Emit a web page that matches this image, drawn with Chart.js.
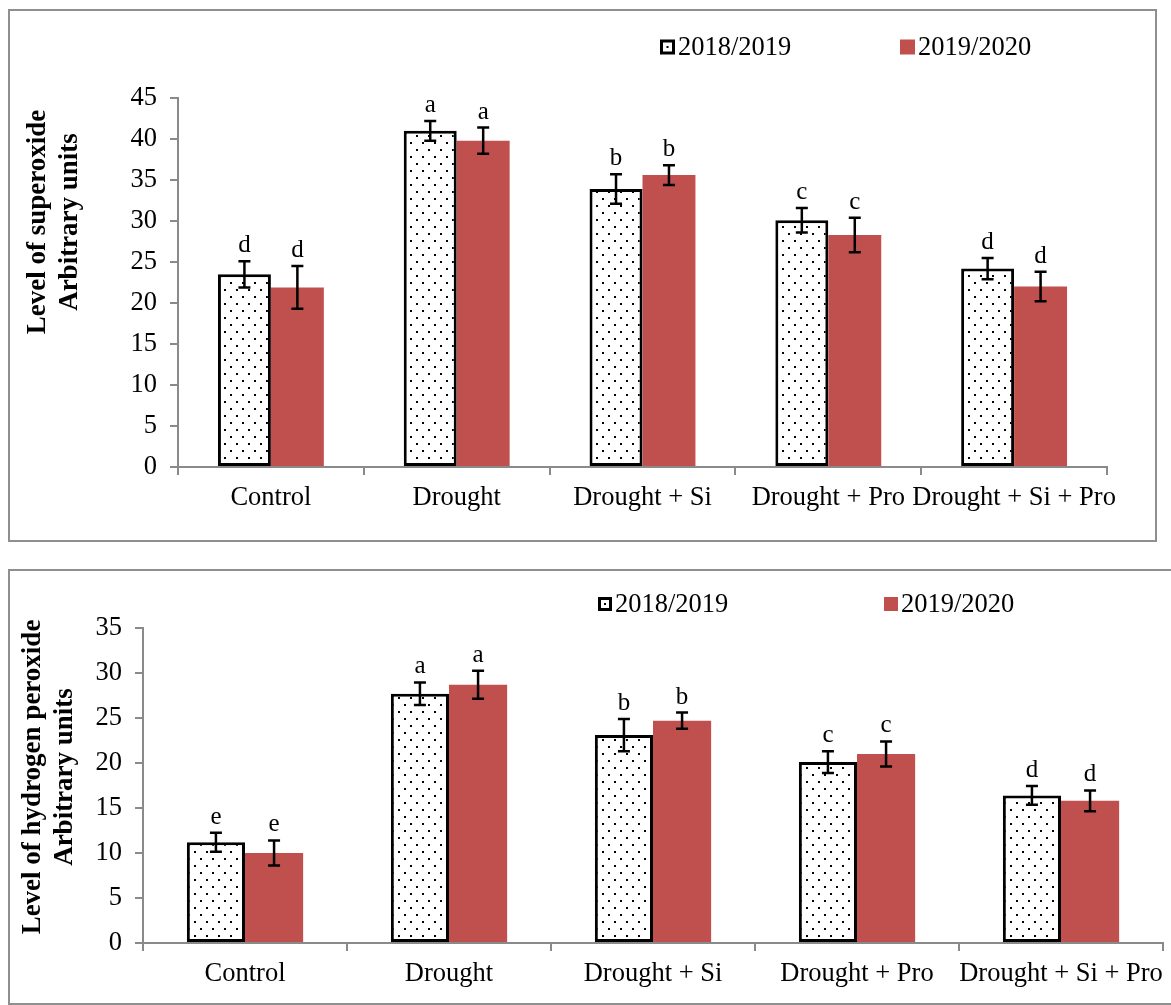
<!DOCTYPE html>
<html>
<head>
<meta charset="utf-8">
<script src="https://cdn.jsdelivr.net/npm/chart.js@4.4.0/dist/chart.umd.min.js"></script>
<style>
  html, body { margin: 0; padding: 0; background: #fff; }
  body { width: 1171px; height: 1005px; position: relative; overflow: hidden; }
  .frame { position: absolute; border: 2px solid #8f8f8f; box-sizing: border-box; }
  #f1 { left: 8px; top: 9px; width: 1149px; height: 533px; }
  #f2 { left: 8px; top: 569px; width: 1200px; height: 436px; }
  canvas { position: absolute; left: 0; }
  #c1 { top: 0; }
  #c2 { top: 555px; }
</style>
</head>
<body>
<div class="frame" id="f1"></div>
<div class="frame" id="f2"></div>
<canvas id="c1" width="1171" height="555"></canvas>
<canvas id="c2" width="1171" height="450"></canvas>
<script>
// Treatments and growing seasons
const categories = ['Control', 'Drought', 'Drought + Si', 'Drought + Pro', 'Drought + Si + Pro'];
const seasons = ['2018/2019', '2019/2020'];

// Superoxide (arbitrary units): means, error bars, significance letters
const superoxide2018 = [23.5, 41.0, 33.9, 30.1, 24.2];
const superoxide2018Err = [1.6, 1.2, 1.8, 1.5, 1.3];
const superoxide2019 = [21.9, 39.8, 35.6, 28.3, 22.0];
const superoxide2019Err = [2.6, 1.6, 1.2, 2.1, 1.8];
const superoxideLetters = ['d', 'a', 'b', 'c', 'd'];

// Hydrogen peroxide (arbitrary units)
const peroxide2018 = [11.2, 27.7, 23.1, 20.1, 16.4];
const peroxide2018Err = [1.05, 1.25, 1.8, 1.2, 1.05];
const peroxide2019 = [10.0, 28.7, 24.7, 21.0, 15.8];
const peroxide2019Err = [1.4, 1.55, 0.9, 1.4, 1.15];
const peroxideLetters = ['e', 'a', 'b', 'c', 'd'];

// Value axis ranges
const superoxideAxisMax = 45;
const peroxideAxisMax = 35;
const axisStep = 5;

const SERIF = "'Liberation Serif', 'Times New Roman', serif";
const TEXT_SIZE = 26.5;
const RED = '#C0504D';
const AXIS = '#8a8a8a';

// Dotted fill tile for the first season's bars
const tile = document.createElement('canvas');
tile.width = 12; tile.height = 14;
(function () {
  const g = tile.getContext('2d');
  g.fillStyle = '#fff'; g.fillRect(0, 0, 12, 14);
  g.fillStyle = '#000';
  g.fillRect(2, 2, 2, 2);
  g.fillRect(8, 9, 2, 2);
})();

// Error bars and letters above each bar
const errorBars = {
  id: 'errorBars',
  afterDatasetsDraw(chart) {
    const { ctx } = chart;
    const y = chart.scales.y;
    ctx.save();
    chart.data.datasets.forEach((ds, i) => {
      const meta = chart.getDatasetMeta(i);
      meta.data.forEach((bar, j) => {
        const v = ds.data[j], e = ds.errors[j];
        const yt = y.getPixelForValue(v + e);
        const yb = y.getPixelForValue(v - e);
        ctx.strokeStyle = '#000';
        ctx.lineWidth = 2.5;
        ctx.beginPath();
        ctx.moveTo(bar.x, yt); ctx.lineTo(bar.x, yb);
        ctx.moveTo(bar.x - 6, yt); ctx.lineTo(bar.x + 6, yt);
        ctx.moveTo(bar.x - 6, yb); ctx.lineTo(bar.x + 6, yb);
        ctx.stroke();
        ctx.fillStyle = '#000';
        ctx.font = '25px ' + SERIF;
        ctx.textAlign = 'center';
        ctx.textBaseline = 'alphabetic';
        ctx.fillText(ds.letters[j], bar.x, yt - 9);
      });
    });
    ctx.restore();
  }
};

// Two-line rotated value-axis title
const axisTitle = {
  id: 'axisTitle',
  afterDraw(chart, args, opts) {
    const { ctx } = chart;
    ctx.save();
    ctx.fillStyle = '#000';
    ctx.font = 'bold 27px ' + SERIF;
    ctx.textAlign = 'center';
    ctx.textBaseline = 'middle';
    opts.lines.forEach((line, k) => {
      ctx.save();
      ctx.translate(opts.xs[k], opts.y);
      ctx.rotate(-Math.PI / 2);
      ctx.fillText(line, 0, 0);
      ctx.restore();
    });
    ctx.restore();
  }
};

// Legend with a dotted swatch and a solid swatch
const seasonLegend = {
  id: 'seasonLegend',
  afterDraw(chart, args, opts) {
    const { ctx } = chart;
    ctx.save();
    chart.data.datasets.forEach((ds, i) => {
      const x = opts.xs[i], y = opts.y, s = opts.size;
      if (i === 0) {
        ctx.fillStyle = '#000';
        ctx.fillRect(x, y - s / 2, s, s);
        ctx.fillStyle = '#fff';
        ctx.fillRect(x + 3, y - s / 2 + 3, s - 6, s - 6);
        ctx.fillStyle = '#000';
        ctx.fillRect(x + s / 2 - 1, y - 1, 2, 2);
      } else {
        ctx.fillStyle = RED;
        ctx.fillRect(x, y - s / 2, s, s);
      }
      ctx.fillStyle = '#000';
      ctx.font = TEXT_SIZE + 'px ' + SERIF;
      ctx.textAlign = 'left';
      ctx.textBaseline = 'middle';
      ctx.fillText(ds.label, x + s + 3, y + 1);
    });
    ctx.restore();
  }
};

function buildChart(id, cfg) {
  const ctx = document.getElementById(id).getContext('2d');
  const dots = ctx.createPattern(tile, 'repeat');
  return new Chart(ctx, {
    type: 'bar',
    data: {
      labels: categories,
      datasets: [
        { label: seasons[0], data: cfg.v1, errors: cfg.e1, letters: cfg.letters,
          backgroundColor: dots, borderColor: '#000', borderWidth: 3, borderSkipped: false },
        { label: seasons[1], data: cfg.v2, errors: cfg.e2, letters: cfg.letters,
          backgroundColor: RED, borderWidth: 0 }
      ]
    },
    options: {
      responsive: false,
      animation: false,
      devicePixelRatio: 1,
      layout: { padding: cfg.pad },
      datasets: { bar: { categoryPercentage: 0.57, barPercentage: 1 } },
      plugins: {
        legend: { display: false },
        tooltip: { enabled: false },
        axisTitle: cfg.title,
        seasonLegend: cfg.legend
      },
      scales: {
        x: {
          grid: { display: true, drawOnChartArea: false, drawTicks: true, tickLength: 8,
                  color: AXIS, lineWidth: 2, offset: true },
          border: { display: true, color: AXIS, width: 2 },
          ticks: { color: '#000', font: { family: SERIF, size: TEXT_SIZE }, padding: 7,
                   maxRotation: 0, autoSkip: false },
          afterFit(s) { s.height = cfg.xh; }
        },
        y: {
          min: 0, max: cfg.max,
          grid: { display: true, drawOnChartArea: false, drawTicks: true, tickLength: 8,
                  color: AXIS, lineWidth: 2 },
          border: { display: true, color: AXIS, width: 2 },
          ticks: { stepSize: axisStep, color: '#000', font: { family: SERIF, size: TEXT_SIZE }, padding: 13 },
          afterFit(s) { s.width = cfg.yw; }
        }
      }
    },
    plugins: [errorBars, axisTitle, seasonLegend]
  });
}

buildChart('c1', {
  v1: superoxide2018, e1: superoxide2018Err,
  v2: superoxide2019, e2: superoxide2019Err,
  letters: superoxideLetters,
  max: superoxideAxisMax,
  pad: { left: 0, top: 98, right: 64, bottom: 28 },
  xh: 60, yw: 178,
  title: { lines: ['Level of superoxide', 'Arbitrary units'], xs: [38, 70], y: 222 },
  legend: { xs: [660, 900], y: 47, size: 15 }
});

buildChart('c2', {
  v1: peroxide2018, e1: peroxide2018Err,
  v2: peroxide2019, e2: peroxide2019Err,
  letters: peroxideLetters,
  max: peroxideAxisMax,
  pad: { left: 0, top: 73, right: 8, bottom: 12 },
  xh: 50, yw: 143,
  title: { lines: ['Level of hydrogen peroxide', 'Arbitrary units'], xs: [33, 65], y: 222 },
  legend: { xs: [598, 884], y: 49, size: 14 }
});
</script>
</body>
</html>
